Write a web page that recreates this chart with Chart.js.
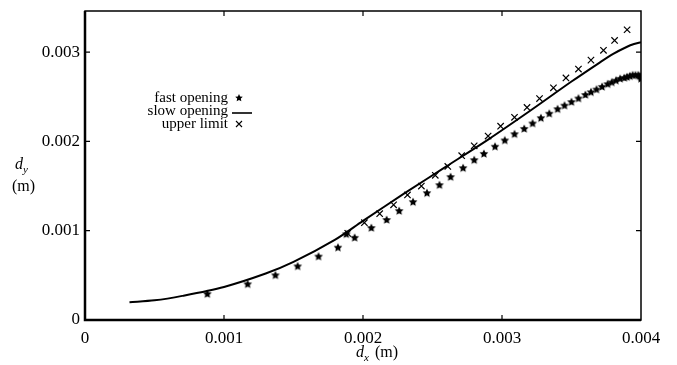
<!DOCTYPE html>
<html>
<head>
<meta charset="utf-8">
<script src="https://cdn.jsdelivr.net/npm/chart.js@4.4.1/dist/chart.umd.min.js"></script>
<style>
  html, body { margin:0; padding:0; background:#fff; }
  #wrap { width:677px; height:365px; position:relative; }
</style>
</head>
<body>
<div id="wrap"><canvas id="c"></canvas></div>
<script>
// ---- data ----
const xTicks = [0, 0.001, 0.002, 0.003, 0.004];
const yTicks = [0, 0.001, 0.002, 0.003];

// slow opening (solid line)
const slowX = [0.00032, 0.0005, 0.0007, 0.001, 0.0013, 0.0015, 0.0018, 0.002, 0.0023, 0.0026, 0.0029, 0.0032, 0.0035, 0.0037, 0.0038, 0.0039, 0.00395, 0.004];
const slowY = [0.0002, 0.00022, 0.00027, 0.00037, 0.00052, 0.00065, 0.0009, 0.00111, 0.00142, 0.00172, 0.00202, 0.00234, 0.00267, 0.00288, 0.00298, 0.00306, 0.00309, 0.00311];

// fast opening (stars)
const fastX = [0.00088, 0.00117, 0.00137, 0.00153, 0.00168, 0.00182, 0.00188, 0.00194, 0.00206, 0.00217, 0.00226, 0.00236, 0.00246, 0.00255, 0.00263, 0.00272, 0.0028, 0.00287, 0.00295, 0.00302, 0.00309, 0.00316, 0.00322, 0.00328, 0.00334, 0.0034, 0.00345, 0.0035, 0.00355, 0.0036, 0.00364, 0.00368, 0.00372, 0.00376, 0.00379, 0.00382, 0.00385, 0.00388, 0.0039, 0.00392, 0.00394, 0.00396, 0.00398, 0.00399, 0.004, 0.004];
const fastY = [0.00029, 0.0004, 0.0005, 0.0006, 0.00071, 0.00081, 0.00096, 0.00092, 0.00103, 0.00112, 0.00122, 0.00132, 0.00142, 0.00151, 0.0016, 0.0017, 0.00179, 0.00186, 0.00194, 0.00201, 0.00208, 0.00214, 0.0022, 0.00226, 0.00231, 0.00236, 0.0024, 0.00244, 0.00248, 0.00252, 0.00255, 0.00258, 0.00261, 0.00264, 0.00266, 0.00268, 0.0027, 0.00271, 0.00272, 0.00273, 0.00274, 0.00274, 0.00274, 0.00273, 0.00272, 0.0027];

// upper limit (crosses)
const upperX = [0.00189, 0.00201, 0.00212, 0.00222, 0.00232, 0.00242, 0.00252, 0.00261, 0.00271, 0.0028, 0.0029, 0.00299, 0.00309, 0.00318, 0.00327, 0.00337, 0.00346, 0.00355, 0.00364, 0.00373, 0.00381, 0.0039];
const upperY = [0.00097, 0.00109, 0.00119, 0.00129, 0.0014, 0.0015, 0.00162, 0.00172, 0.00184, 0.00195, 0.00206, 0.00217, 0.00227, 0.00238, 0.00248, 0.0026, 0.00271, 0.00281, 0.00291, 0.00302, 0.00313, 0.00325];

const legendLabels = ['fast opening', 'slow opening', 'upper limit'];

const pts = (xs, ys) => xs.map((x, i) => ({ x, y: ys[i] }));
const SERIF = '"Liberation Serif", "DejaVu Serif", serif';

// filled five-point star used as point style
function makeStar(r) {
  const s = Math.ceil(r * 2 + 2);
  const cv = document.createElement('canvas');
  cv.width = s; cv.height = s;
  const g = cv.getContext('2d');
  g.fillStyle = '#000';
  g.beginPath();
  for (let i = 0; i < 10; i++) {
    const rad = i % 2 === 0 ? r : r * 0.48;
    const a = -Math.PI / 2 + i * Math.PI / 5;
    const px = s / 2 + rad * Math.cos(a), py = s / 2 + rad * Math.sin(a);
    i === 0 ? g.moveTo(px, py) : g.lineTo(px, py);
  }
  g.closePath();
  g.fill();
  return cv;
}
const star = makeStar(4.6);
const legendStar = makeStar(4);

// box, inward ticks, axis titles, legend
const decor = {
  id: 'decor',
  afterDraw(chart) {
    const { ctx, chartArea: a, scales: { x, y } } = chart;
    ctx.save();
    ctx.strokeStyle = '#000';
    ctx.lineWidth = 1.5;
    ctx.strokeRect(a.left, a.top, a.right - a.left, a.bottom - a.top);
    ctx.lineWidth = 2.5;
    ctx.beginPath();
    ctx.moveTo(a.left, a.top); ctx.lineTo(a.left, a.bottom); ctx.lineTo(a.right, a.bottom);
    ctx.stroke();

    ctx.lineWidth = 1.2;
    ctx.beginPath();
    xTicks.slice(1, -1).forEach(v => {
      const px = x.getPixelForValue(v);
      ctx.moveTo(px, a.bottom); ctx.lineTo(px, a.bottom - 5);
      ctx.moveTo(px, a.top); ctx.lineTo(px, a.top + 5);
    });
    yTicks.slice(1).forEach(v => {
      const py = y.getPixelForValue(v);
      ctx.moveTo(a.left, py); ctx.lineTo(a.left + 5, py);
      ctx.moveTo(a.right, py); ctx.lineTo(a.right - 5, py);
    });
    ctx.stroke();

    // axis titles
    ctx.fillStyle = '#000';
    ctx.textBaseline = 'alphabetic';
    ctx.textAlign = 'left';
    const sub = (cx, cy, main, s) => {
      ctx.font = 'italic 16px ' + SERIF;
      const w = ctx.measureText(main).width;
      ctx.fillText(main, cx, cy);
      ctx.font = 'italic 11px ' + SERIF;
      ctx.fillText(s, cx + w, cy + 4);
      return w + ctx.measureText(s).width;
    };
    // x title
    let w = sub(356, 357, 'd', 'x');
    ctx.font = '16px ' + SERIF;
    ctx.fillText('(m)', 356 + w + 6, 357);
    // y title
    sub(15, 169, 'd', 'y');
    ctx.font = '16px ' + SERIF;
    ctx.fillText('(m)', 12, 191);

    // legend
    ctx.font = '15px ' + SERIF;
    ctx.textAlign = 'right';
    ctx.textBaseline = 'middle';
    const ly = [98, 111, 124];
    legendLabels.forEach((t, i) => ctx.fillText(t, 228, ly[i]));
    ctx.drawImage(legendStar, 239 - legendStar.width / 2, ly[0] - legendStar.height / 2);
    ctx.lineWidth = 1.6;
    ctx.beginPath();
    ctx.moveTo(232, ly[1] + 2); ctx.lineTo(252, ly[1] + 2);
    ctx.stroke();
    ctx.lineWidth = 1.1;
    ctx.beginPath();
    ctx.moveTo(236, ly[2] - 3); ctx.lineTo(242, ly[2] + 3);
    ctx.moveTo(242, ly[2] - 3); ctx.lineTo(236, ly[2] + 3);
    ctx.stroke();
    ctx.restore();
  }
};

new Chart(document.getElementById('c').getContext('2d'), {
  type: 'scatter',
  data: {
    datasets: [
      { label: legendLabels[1], data: pts(slowX, slowY), showLine: true, borderColor: '#000', borderWidth: 2,
        pointRadius: 0, tension: 0.3, fill: false },
      { label: legendLabels[0], data: pts(fastX, fastY), pointStyle: star, borderWidth: 0 },
      { label: legendLabels[2], data: pts(upperX, upperY), pointStyle: 'crossRot', pointRadius: 4.5,
        borderColor: '#000', borderWidth: 1.2 }
    ]
  },
  options: {
    responsive: true, maintainAspectRatio: false, animation: false,
    layout: { padding: { top: 11, right: 36, left: 0, bottom: 0 } },
    plugins: { legend: { display: false }, tooltip: { enabled: false } },
    scales: {
      x: {
        type: 'linear', min: 0, max: 0.004,
        afterBuildTicks: s => { s.ticks = xTicks.map(v => ({ value: v })); },
        afterFit: s => { s.height = 45; s.paddingLeft = 0; s.paddingRight = 0; },
        ticks: { color: '#000', padding: 8, maxRotation: 0, font: { family: SERIF, size: 17 },
                 callback: v => v === 0 ? '0' : v.toFixed(3) },
        grid: { drawOnChartArea: false, drawTicks: false },
        border: { display: false }
      },
      y: {
        type: 'linear', min: 0, max: 0.00346,
        afterBuildTicks: s => { s.ticks = yTicks.map(v => ({ value: v })); },
        afterFit: s => { s.width = 85; s.paddingTop = 0; s.paddingBottom = 0; },
        ticks: { color: '#000', padding: 5, font: { family: SERIF, size: 17 },
                 callback: v => v === 0 ? '0' : v.toFixed(3) },
        grid: { drawOnChartArea: false, drawTicks: false },
        border: { display: false }
      }
    }
  },
  plugins: [decor]
});
</script>
</body>
</html>
